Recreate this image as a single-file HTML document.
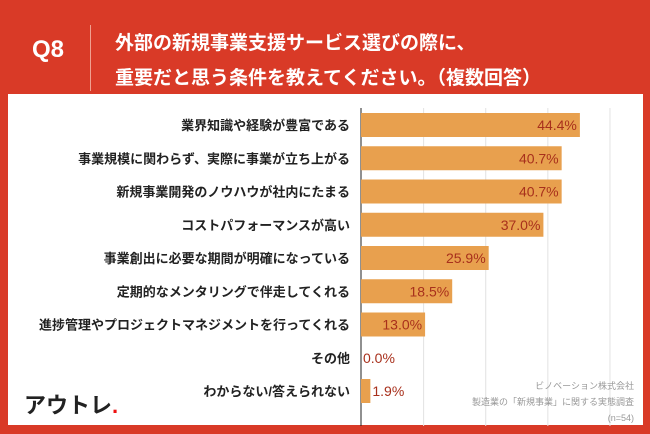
<!DOCTYPE html>
<html><head><meta charset="utf-8"><style>
body{margin:0;width:650px;height:434px;background:#D93A27;font-family:"Liberation Sans","Noto Sans CJK JP",sans-serif;position:relative;overflow:hidden}
.abs{position:absolute}
</style></head><body>
<div class="abs" style="left:32px;top:36px;color:#fff;font-size:24px;font-weight:bold">Q8</div>
<div class="abs" style="left:90px;top:25px;width:1px;height:66px;background:#f0a090"></div>
<div class="abs" style="left:115px;top:26px;color:#fff;font-size:19px;font-weight:bold;line-height:35px;white-space:nowrap">外部の新規事業支援サービス選びの際に、<br>重要だと思う条件を教えてください。（複数回答）</div>
<div class="abs" style="left:8px;top:94px;width:635px;height:331px;background:#fff"></div>
<svg class="abs" style="left:0;top:0" width="650" height="434" id="chart"></svg>
<div class="abs" style="left:24px;top:388px;font-size:22px;font-weight:bold;color:#222">アウトレ<span style="color:#e11">.</span></div>
<div class="abs" style="right:16px;top:378px;font-size:9px;color:#999;text-align:right;line-height:16px">ビノベーション株式会社<br>製造業の「新規事業」に関する実態調査<br>(n=54)</div>
<script>
const categories=["業界知識や経験が豊富である","事業規模に関わらず、実際に事業が立ち上がる","新規事業開発のノウハウが社内にたまる","コストパフォーマンスが高い","事業創出に必要な期間が明確になっている","定期的なメンタリングで伴走してくれる","進捗管理やプロジェクトマネジメントを行ってくれる","その他","わからない/答えられない"];
const values=[44.4,40.7,40.7,37.0,25.9,18.5,13.0,0.0,1.9];
const gridTicks=[0,12.7,25.3,37.9,50.5];
const svg=document.getElementById('chart');
const NS='http://www.w3.org/2000/svg';
const x0=361,pxPer=4.93,top0=113,step=33.25,bh=24;
const xs=v=>x0+v*pxPer;
gridTicks.forEach(t=>{const l=document.createElementNS(NS,'line');


l.setAttribute('x1',xs(t));l.setAttribute('x2',xs(t));l.setAttribute('y1',108);l.setAttribute('y2',426);
l.setAttribute('stroke',t===0?'#222':'#e2e2e2');l.setAttribute('stroke-width',1);svg.appendChild(l);});
categories.forEach((c,i)=>{const y=top0+i*step;
const r=document.createElementNS(NS,'rect');


r.setAttribute('x',x0);r.setAttribute('y',y);r.setAttribute('width',values[i]*pxPer);r.setAttribute('height',bh);r.setAttribute('fill','#E8A04E');svg.appendChild(r);
const t=document.createElementNS(NS,'text');


t.setAttribute('x',350);t.setAttribute('y',y+bh/2+5);t.setAttribute('text-anchor','end');t.setAttribute('font-size','13');t.setAttribute('font-weight','bold');t.setAttribute('fill','#222');t.textContent=c;svg.appendChild(t);
const v=document.createElementNS(NS,'text');


const w=values[i]*pxPer;
const inside=w>50;
v.setAttribute('x',inside?x0+w-3:x0+w+2);v.setAttribute('text-anchor',inside?'end':'start');
v.setAttribute('y',y+bh/2+5);v.setAttribute('font-size','14');v.setAttribute('fill','#A8301C');v.textContent=values[i].toFixed(1)+'%';svg.appendChild(v);});
</script>
</body></html>
